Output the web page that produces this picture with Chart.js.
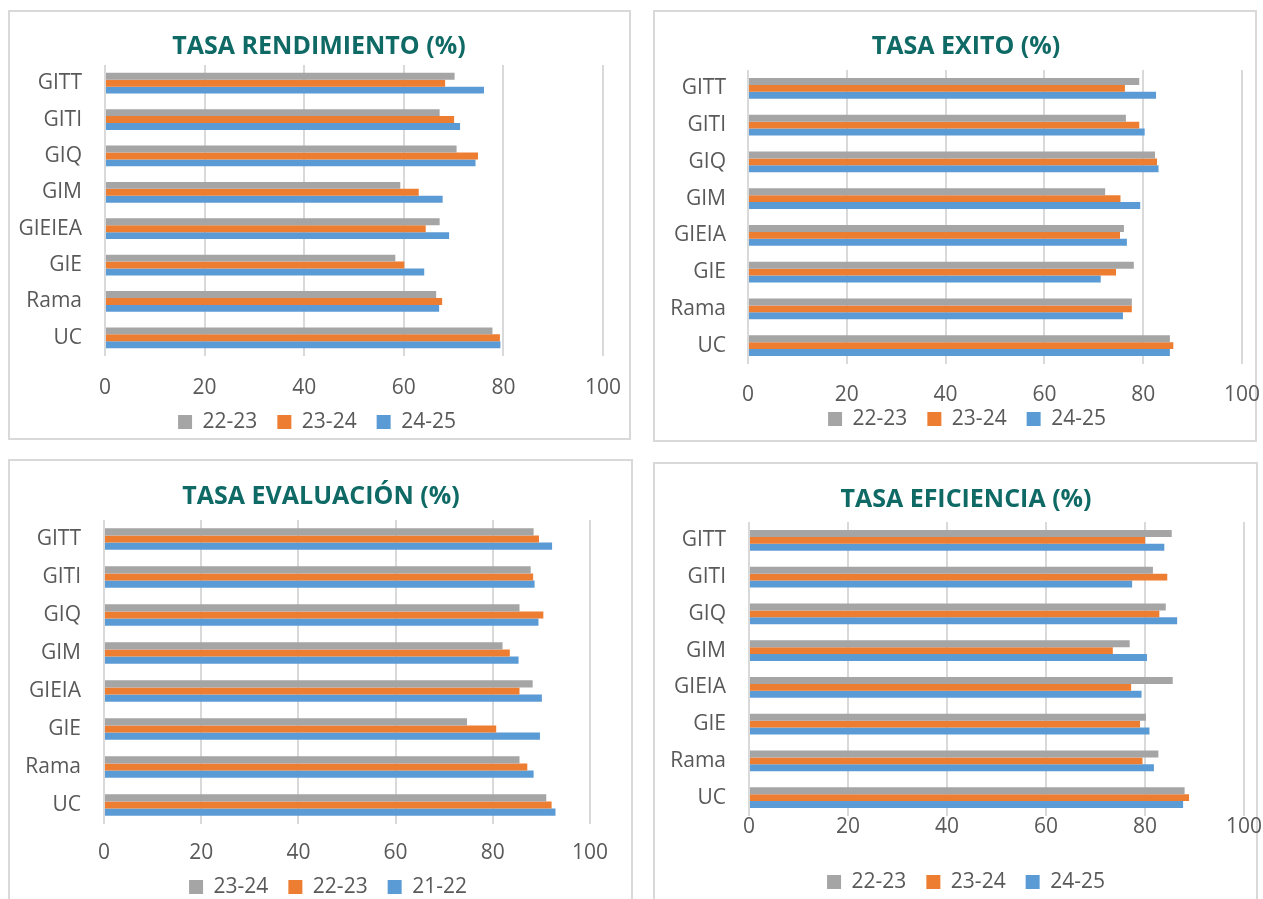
<!DOCTYPE html>
<html>
<head>
<meta charset="utf-8">
<script src="https://cdn.jsdelivr.net/npm/chart.js@4/dist/chart.umd.min.js"></script>
<style>
  body { margin: 0; background: #fff; width: 1263px; height: 899px; overflow: hidden; position: relative; }
  .box { position: absolute; border: 2px solid #d9d9d9; box-sizing: border-box; }
  .wrap { position: absolute; }
</style>
</head>
<body>
<div id="page"></div>
<script>
// categories, top to bottom
const catsRend = ['GITT', 'GITI', 'GIQ', 'GIM', 'GIEIEA', 'GIE', 'Rama', 'UC'];
const catsOther = ['GITT', 'GITI', 'GIQ', 'GIM', 'GIEIA', 'GIE', 'Rama', 'UC'];
const xTicks = [0, 20, 40, 60, 80, 100];

// TASA RENDIMIENTO
const rend2223 = [70.2, 67.2, 70.6, 59.3, 67.2, 58.3, 66.5, 77.8];
const rend2324 = [68.3, 70.1, 74.9, 63.0, 64.4, 60.1, 67.7, 79.3];
const rend2425 = [76.1, 71.3, 74.4, 67.8, 69.1, 64.1, 67.1, 79.4];

// TASA EXITO
const exito2223 = [79.2, 76.5, 82.4, 72.3, 76.1, 78.1, 77.7, 85.4];
const exito2324 = [76.3, 79.2, 82.8, 75.4, 75.3, 74.5, 77.7, 86.1];
const exito2425 = [82.6, 80.3, 83.1, 79.4, 76.7, 71.4, 75.9, 85.4];

// TASA EVALUACION
const eval2324 = [88.4, 87.8, 85.5, 82.0, 88.2, 74.7, 85.5, 91.0];
const eval2223 = [89.5, 88.3, 90.4, 83.5, 85.5, 80.7, 87.1, 92.1];
const eval2122 = [92.2, 88.6, 89.4, 85.3, 90.1, 89.7, 88.4, 92.9];

// TASA EFICIENCIA
const efic2223 = [85.4, 81.6, 84.2, 76.9, 85.6, 80.2, 82.7, 88.0];
const efic2324 = [80.0, 84.5, 82.9, 73.5, 77.2, 79.0, 79.5, 88.9];
const efic2425 = [83.9, 77.4, 86.5, 80.4, 79.3, 80.9, 81.8, 87.7];

const GRAY = '#a5a5a5', ORANGE = '#ed7d31', BLUE = '#5b9bd5';
const FONT = 'Open Sans';
const TXT = '#595959';

// panel geometry on the page (box, plot area, title / tick / legend centres)
const panels = [
    { box: [8, 10, 631, 440], plot: [105, 603, 65, 356], title: [319, 47], tickY: 388, legend: [317, 422], labPad: 23 },
    { box: [653, 10, 1257, 442], plot: [748, 1242, 70, 364], title: [966, 47], tickY: 395, legend: [967, 419], labPad: 22 },
    { box: [8, 459, 633, 910], plot: [104, 590, 520, 824], title: [321, 497], tickY: 853, legend: [328, 887], labPad: 23 },
    { box: [653, 462, 1258, 910], plot: [749, 1244, 522, 816], title: [966, 500], tickY: 827, legend: [966, 882], labPad: 23 }
];

// moves title and legend to fixed spots after Chart.js has laid out the boxes
const placeBlocks = {
    id: 'placeBlocks',
    afterLayout(chart, args, o) {
        const t = chart.titleBlock;
        const tw = t.right - t.left;
        t.left = o.titleX - tw / 2; t.right = t.left + tw;
        const th = t.bottom - t.top;
        t.top = o.titleY - th / 2; t.bottom = t.top + th;
        const l = chart.legend;
        const lw = l.right - l.left, lh = l.bottom - l.top;
        l.left = o.legendX - lw / 2; l.right = l.left + lw;
        l.top = o.legendY - o.legendPad - 10.5; l.bottom = l.top + lh;
    }
};

function makeChart(p, title, cats, labels, series) {
    const [bl, bt, br, bb] = p.box;
    const box = document.createElement('div');
    box.className = 'box';
    Object.assign(box.style, { left: bl + 'px', top: bt + 'px', width: (br - bl) + 'px', height: (bb - bt) + 'px' });
    document.getElementById('page').appendChild(box);

    const [pl, pr, pt, pb] = p.plot;
    const tp = p.tickY - pb - 10.5;          // x tick padding
    const axisH = tp + 21;
    const legendPad = 20, legendH = 21 + legendPad + 10;
    const innerH = (pb - bt) + axisH + legendH;
    const H = Math.ceil(innerH) + 2;
    const W = Math.min(1263, br + 30) - bl;

    const wrap = document.createElement('div');
    wrap.className = 'wrap';
    Object.assign(wrap.style, { left: bl + 'px', top: bt + 'px', width: W + 'px', height: H + 'px' });
    const canvas = document.createElement('canvas');
    wrap.appendChild(canvas);
    document.getElementById('page').appendChild(wrap);

    const colors = [GRAY, ORANGE, BLUE];
    return new Chart(canvas, {
        type: 'bar',
        data: {
            labels: cats,
            datasets: series.map((d, i) => ({
                label: labels[i],
                data: d,
                backgroundColor: colors[i],
                borderWidth: 0,
                barPercentage: 1,
                categoryPercentage: 0.57
            }))
        },
        plugins: [placeBlocks],
        options: {
            indexAxis: 'y',
            responsive: true,
            maintainAspectRatio: false,
            animation: false,
            layout: { padding: { top: (pt - bt) - 30, right: W - (pr - bl), bottom: H - innerH, left: 0 } },
            scales: {
                x: {
                    min: 0, max: 100,
                    afterBuildTicks: ax => { ax.ticks = xTicks.map(v => ({ value: v })); },
                    afterFit: s => { s.paddingLeft = 0; s.paddingRight = 0; s.height = axisH; },
                    grid: { color: '#d9d9d9', lineWidth: 2, drawTicks: false },
                    border: { display: false },
                    ticks: { color: TXT, font: { family: FONT, size: 21, lineHeight: 1 }, padding: tp, maxRotation: 0 }
                },
                y: {
                    afterFit: s => { s.width = pl - bl; },
                    grid: { display: false, drawTicks: false },
                    border: { display: false },
                    ticks: { color: TXT, font: { family: FONT, size: 21 }, padding: p.labPad }
                }
            },
            plugins: {
                title: {
                    display: true, text: title, color: '#0f6a66',
                    font: { family: FONT, size: 25, weight: 'bold', lineHeight: 1.2 },
                    padding: 0
                },
                legend: {
                    position: 'bottom',
                    labels: {
                        color: TXT, font: { family: FONT, size: 21 },
                        boxWidth: 14, boxHeight: 14, padding: legendPad
                    }
                },
                placeBlocks: {
                    titleX: p.title[0] - bl, titleY: p.title[1] - bt,
                    legendX: p.legend[0] - bl, legendY: p.legend[1] - bt, legendPad: legendPad
                },
                tooltip: { enabled: false }
            }
        }
    });
}

makeChart(panels[0], 'TASA RENDIMIENTO (%)', catsRend, ['22-23', '23-24', '24-25'], [rend2223, rend2324, rend2425]);
makeChart(panels[1], 'TASA EXITO (%)', catsOther, ['22-23', '23-24', '24-25'], [exito2223, exito2324, exito2425]);
makeChart(panels[2], 'TASA EVALUACIÓN (%)', catsOther, ['23-24', '22-23', '21-22'], [eval2324, eval2223, eval2122]);
makeChart(panels[3], 'TASA EFICIENCIA (%)', catsOther, ['22-23', '23-24', '24-25'], [efic2223, efic2324, efic2425]);
</script>
</body>
</html>
